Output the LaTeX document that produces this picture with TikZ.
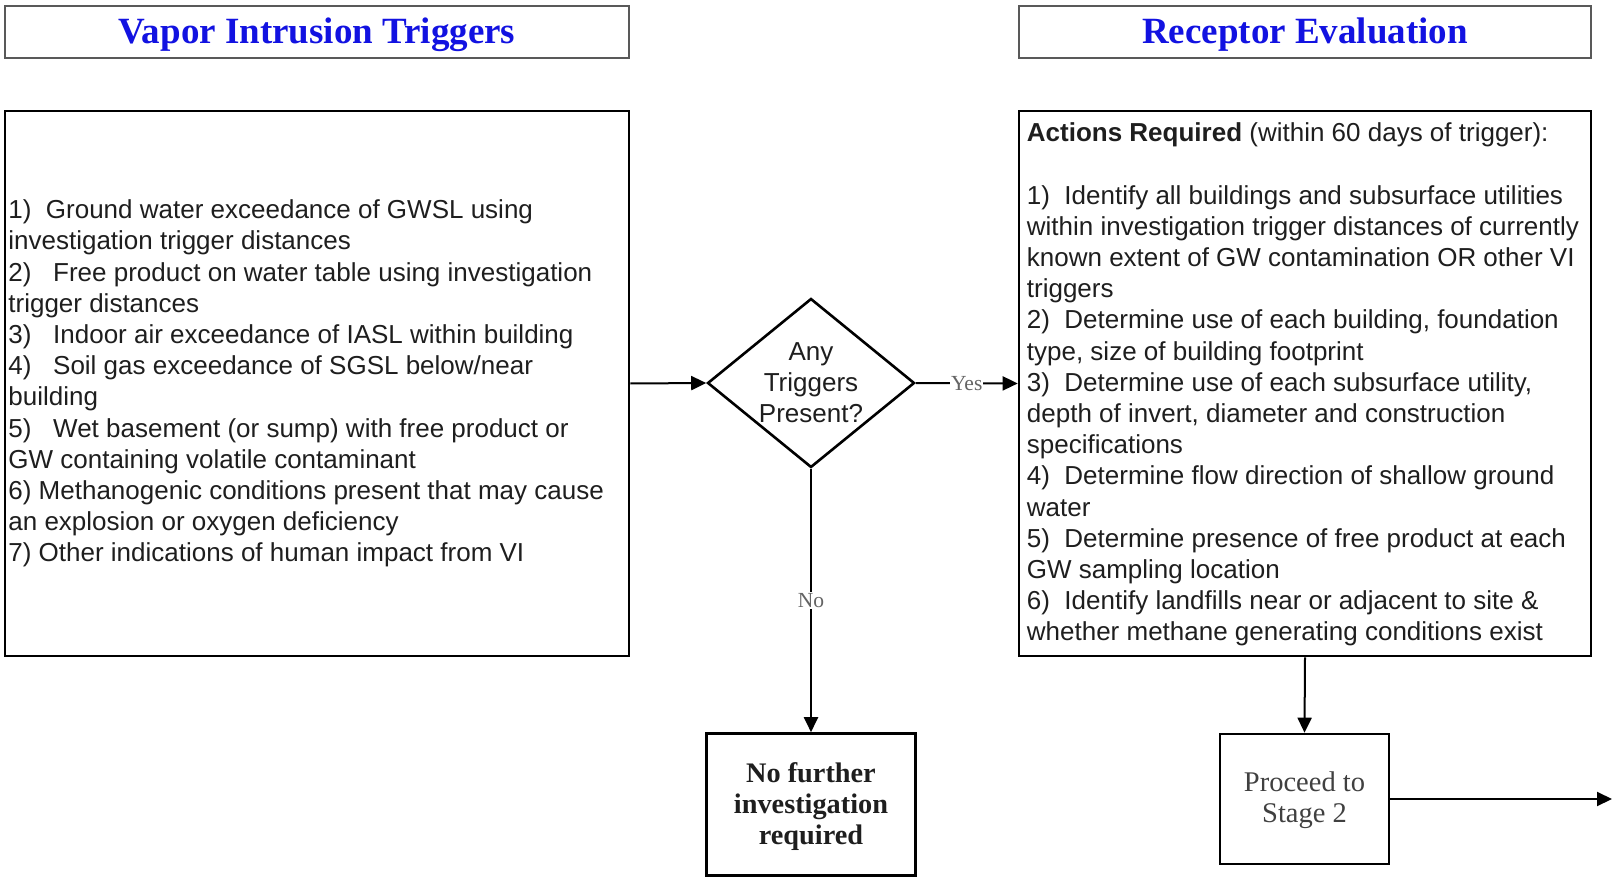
\documentclass[tikz,border=0pt]{standalone}
\usepackage{fontspec}
\setmainfont{Liberation Serif}
\setsansfont{Liberation Sans}
\usetikzlibrary{shapes.geometric,arrows.meta}
\definecolor{titleblue}{RGB}{18,18,225}
\definecolor{txt}{RGB}{30,30,30}
\definecolor{lbl}{RGB}{100,100,100}
\newcommand{\dn}[2]{\raisebox{-#1}[\height][\depth]{#2}}
\tikzset{
  titlebox/.style={draw=black!65,line width=2pt,inner sep=0pt,
    font=\rmfamily\bfseries\fontsize{37}{42}\selectfont,text=titleblue},
  bigbox/.style={draw=black,line width=2.6pt,inner sep=0pt},
  bigtext/.style={anchor=west,align=left,inner sep=0pt,
    font=\sffamily\fontsize{26}{31.2}\selectfont,text=txt},
  smallbox/.style={draw=black,line width=2.6pt,inner sep=0pt,align=center,
    font=\rmfamily\fontsize{28.5}{31}\selectfont},
  decision/.style={draw=black,line width=2.6pt,diamond,inner sep=0pt},
  conn/.style={line width=2pt,-{Triangle[length=15pt,width=14pt]}},
  lab/.style={fill=white,inner sep=1pt,text=lbl,font=\rmfamily\fontsize{21.5}{23}\selectfont}
}
\begin{document}
\begin{tikzpicture}[x=1pt,y=-1pt]
\useasboundingbox (0,0) rectangle (1612,877);
% titles
\node[titlebox,minimum width=624,minimum height=52] (t1) at (317,32) {\dn{2.5pt}{Vapor Intrusion Triggers}};
\node[titlebox,minimum width=572,minimum height=52] (t2) at (1305,32) {\dn{2.5pt}{Receptor Evaluation}};
% left box
\node[bigbox,minimum width=624,minimum height=545] (trig) at (317,383.5) {};
\node[bigtext] (trigtext) at ([xshift=4.5pt]trig.west) {%
1)\ \ Ground water exceedance of GWSL using\\
investigation trigger distances\\
2)\ \ \ Free product on water table using investigation\\
trigger distances\\
3)\ \ \ Indoor air exceedance of IASL within building\\
4)\ \ \ Soil gas exceedance of SGSL below/near\\
building\\
5)\ \ \ Wet basement (or sump) with free product or\\
GW containing volatile contaminant\\
6) Methanogenic conditions present that may cause\\
an explosion or oxygen deficiency\\
7) Other indications of human impact from VI};
% right box
\node[bigbox,minimum width=572,minimum height=545] (act) at (1305,383.5) {};
\node[bigtext] (acttext) at ([xshift=9pt,yshift=-1pt]act.west) {%
\textbf{Actions Required} (within 60 days of trigger):\\[31.2pt]
1)\ \ Identify all buildings and subsurface utilities\\
within investigation trigger distances of currently\\
known extent of GW contamination OR other VI\\
triggers\\
2)\ \ Determine use of each building, foundation\\
type, size of building footprint\\
3)\ \ Determine use of each subsurface utility,\\
depth of invert, diameter and construction\\
specifications\\
4)\ \ Determine flow direction of shallow ground\\
water\\
5)\ \ Determine presence of free product at each\\
GW sampling location\\
6)\ \ Identify landfills near or adjacent to site \&\\
whether methane generating conditions exist};
% decision
\node[decision,minimum width=207,minimum height=169] (q) at (811,383) {};
\node[align=center,font=\sffamily\fontsize{26}{31}\selectfont,text=txt,inner sep=0pt] (qt) at (q.center) {Any\\Triggers\\Present?};
% end boxes
\node[smallbox,minimum width=209,minimum height=142,font=\rmfamily\bfseries\fontsize{28.3}{31}\selectfont,text=txt] (no) at (811,804.5) {\dn{3pt}{\begin{tabular}{@{}c@{}}No further\\investigation\\required\end{tabular}}};
\node[smallbox,minimum width=169,minimum height=130,text=black!75] (p2) at (1304.5,799) {\dn{2pt}{\begin{tabular}{@{}c@{}}Proceed to\\Stage 2\end{tabular}}};
\coordinate (out) at (1612,799);
% connectors
\draw[conn] (trig.east) -- (q.west);
\draw[conn] (q.east) -- node[lab] {Yes} (act.west);
\draw[conn] (q.south) -- node[lab] {No} (no.north);
\draw[conn] (act.south) -- (p2.north);
\draw[conn] (p2.east) -- (out);
\end{tikzpicture}
\end{document}
